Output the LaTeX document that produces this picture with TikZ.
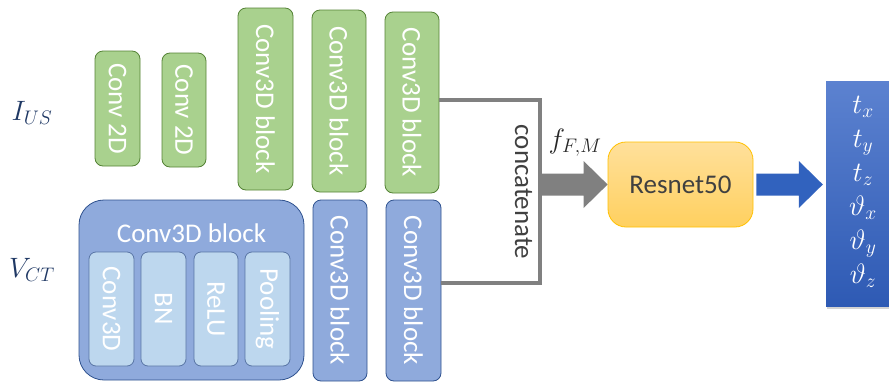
\RequirePackage{fix-cm}
\documentclass[tikz,border=0pt]{standalone}
\usepackage{fontspec}
\setmainfont{Carlito}
\usepackage{graphicx}
\usetikzlibrary{calc,shadows}
\definecolor{gfill}{RGB}{169,209,142}
\definecolor{gline}{RGB}{84,130,53}
\definecolor{bfill}{RGB}{143,170,220}
\definecolor{bline}{RGB}{47,82,143}
\definecolor{lfill}{RGB}{189,215,238}
\definecolor{catgray}{RGB}{128,128,128}
\definecolor{resfilla}{RGB}{255,224,155}
\definecolor{resfillb}{RGB}{255,208,95}
\definecolor{resline}{RGB}{255,192,0}
\definecolor{outtop}{RGB}{92,130,208}
\definecolor{outbot}{RGB}{46,90,180}
\definecolor{arrblue}{RGB}{49,98,190}
\definecolor{navy}{RGB}{31,56,100}
\definecolor{darktext}{RGB}{64,64,64}
\tikzset{
  bigfont/.style={font=\fontsize{27}{30}\selectfont},
  box/.style={draw, rounded corners=8pt, inner sep=0pt, text=white, line width=0.8pt, bigfont},
  gbox/.style={box, fill=gfill, draw=gline},
  bbox/.style={box, fill=bfill, draw=bline},
  lbox/.style={box, fill=lfill, draw=bline!80, rounded corners=7pt},
  bracketline/.style={draw=catgray, line width=4.5pt},
  fatarrow/.style={to path={let \p1=(\tikztostart), \p2=(\tikztotarget) in
     (\x1,\y1+11pt) -- (\x2-24pt,\y1+11pt) -- (\x2-24pt,\y1+23.5pt) -- (\x2,\y1)
     -- (\x2-24pt,\y1-23.5pt) -- (\x2-24pt,\y1-11pt) -- (\x1,\y1-11pt) -- cycle}},
  mathlabel/.style={font=\fontsize{28}{30}\selectfont, text=navy},
}
\begin{document}
\begin{tikzpicture}[x=1pt,y=-1pt]
\clip (0,0) rectangle (889,381);
\useasboundingbox (0,0) rectangle (889,381);

% labels
\node[mathlabel] (ius) at (32,113) {$I_{US}$};
\node[mathlabel] (vct) at (32,270) {$V_{CT}$};

% green path
\node[gbox, minimum width=45pt, minimum height=115pt] (c2a) at (117.5,108.5) {\rotatebox{-90}{Conv 2D}};
\node[gbox, minimum width=44pt, minimum height=114pt] (c2b) at (184,110) {\rotatebox{-90}{Conv 2D}};
\node[gbox, minimum width=55pt, minimum height=182pt] (g1) at (265.5,99) {\rotatebox{-90}{Conv3D block}};
\node[gbox, minimum width=54pt, minimum height=182pt] (g2) at (339,101) {\rotatebox{-90}{Conv3D block}};
\node[gbox, minimum width=54pt, minimum height=181pt] (g3) at (412,102.5) {\rotatebox{-90}{Conv3D block}};

% blue path
\node[bbox, rounded corners=25pt, minimum width=225pt, minimum height=180pt] (big) at (191.5,290) {};
\node[text=white, bigfont, inner sep=0pt] (bigtitle) at (191.5,233) {Conv3D block};
\node[lbox, minimum width=45pt, minimum height=114pt] (ic) at (111.5,309) {\rotatebox{-90}{Conv3D}};
\node[lbox, minimum width=45pt, minimum height=114pt] (ib) at (163.5,309) {\rotatebox{-90}{BN}};
\node[lbox, minimum width=44pt, minimum height=114pt] (ir) at (216,309) {\rotatebox{-90}{ReLU}};
\node[lbox, minimum width=45pt, minimum height=114pt] (ip) at (267.5,309) {\rotatebox{-90}{Pooling}};
\node[bbox, minimum width=54pt, minimum height=181pt] (b2) at (340,290.5) {\rotatebox{-90}{Conv3D block}};
\node[bbox, minimum width=55pt, minimum height=181pt] (b3) at (413.5,290.5) {\rotatebox{-90}{Conv3D block}};

% concatenate bracket
\coordinate (ct) at (540,100);
\coordinate (cb) at (540,283);
\draw[bracketline] (g3.east |- ct) -- (ct) -- (cb) -- (b3.east |- cb);
\node[bigfont, text=darktext, inner sep=0pt] (cat) at (523.5,192) {\rotatebox{-90}{concatenate}};

% resnet
\node[draw=resline, line width=0.8pt, rounded corners=18pt, top color=resfilla, bottom color=resfillb,
      minimum width=145pt, minimum height=85pt, inner sep=0pt, bigfont, text=darktext] (res) at (680.5,184.5) {Resnet50};

% output
\node[top color=outtop, bottom color=outbot, minimum width=74pt, minimum height=225pt, inner sep=0pt,
      drop shadow={shadow xshift=1pt, shadow yshift=-3pt, opacity=0.35}] (out) at (863,193.5) {};
\node[text=white, align=center, font=\fontsize{28}{34}\selectfont, inner sep=0pt] (outtxt) at (863,192)
  {$t_x$\\ $t_y$\\ $t_z$\\ $\vartheta_x$\\ $\vartheta_y$\\ $\vartheta_z$};

% arrows
\fill[catgray] (ct |- res.west) to[fatarrow] (res.west);
\fill[arrblue] ([xshift=3pt]res.east) to[fatarrow] ([xshift=-3pt]out.west |- res.east);
\node[font=\fontsize{28}{30}\selectfont, text=black!85, inner sep=0pt] (fl) at (575,143) {$f_{F,M}$};
\end{tikzpicture}
\end{document}
